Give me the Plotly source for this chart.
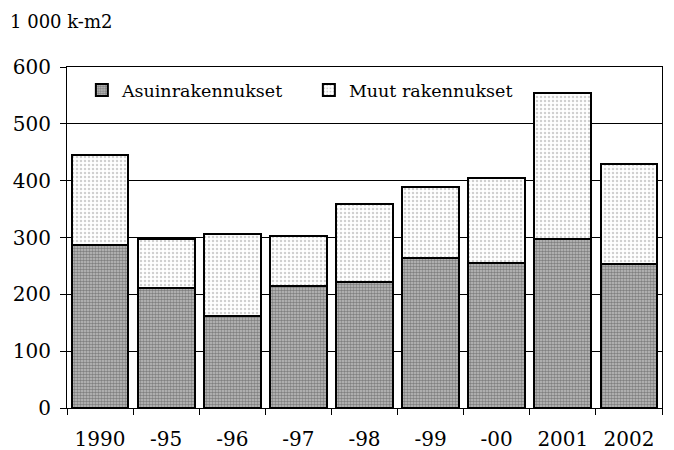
import plotly.graph_objects as go

years = ["1990", "-95", "-96", "-97", "-98", "-99", "-00", "2001", "2002"]
asuin = [287, 211, 162, 215, 222, 264, 256, 298, 253]
muut = [158, 87, 144, 87, 137, 124, 148, 257, 177]

font = "DejaVu Serif"

fig = go.Figure()
fig.add_trace(go.Bar(
    x=years, y=asuin, name="Asuinrakennukset",
    marker=dict(color="#b0b0b0", line=dict(color="black", width=2),
                pattern=dict(shape=".", fgcolor="#404040", bgcolor="#c0c0c0",
                             size=3, solidity=0.55, fillmode="overlay")),
))
fig.add_trace(go.Bar(
    x=years, y=muut, name="Muut rakennukset",
    marker=dict(color="white", line=dict(color="black", width=2),
                pattern=dict(shape=".", fgcolor="#a0a0a0", bgcolor="white",
                             size=4, solidity=0.3, fillmode="overlay")),
))

fig.update_layout(
    barmode="stack",
    bargap=0.14,
    width=666, height=442,
    margin=dict(l=59, r=12, t=59, b=42),
    paper_bgcolor="white", plot_bgcolor="white",
    font=dict(family=font, size=19, color="black"),
    showlegend=True,
    legend=dict(orientation="h", x=0.025, y=0.985, xanchor="left", yanchor="top",
                bgcolor="rgba(0,0,0,0)", font=dict(family=font, size=17.5),
                itemwidth=30, entrywidth=182, entrywidthmode="pixels",
                traceorder="normal"),
)
fig.add_annotation(text="1 000 k-m2", xref="paper", yref="paper",
                   x=-0.099, y=1.132, xanchor="left", yanchor="middle",
                   showarrow=False, font=dict(family=font, size=18))

fig.update_xaxes(
    type="category", tickson="boundaries", ticks="outside", ticklen=6,
    tickcolor="black", showline=True, linecolor="black", linewidth=1,
    mirror=True, showgrid=False, tickfont=dict(family=font, size=20),
    ticklabelstandoff=13, automargin=False,
)
fig.update_yaxes(
    range=[0, 600], dtick=100, ticks="outside", ticklen=6, tickcolor="black",
    showline=True, linecolor="black", linewidth=1, mirror=True,
    showgrid=True, gridcolor="black", gridwidth=1, zeroline=False,
    tickfont=dict(family=font, size=20), ticklabelstandoff=5, automargin=False,
)

fig.write_html("out.html")
